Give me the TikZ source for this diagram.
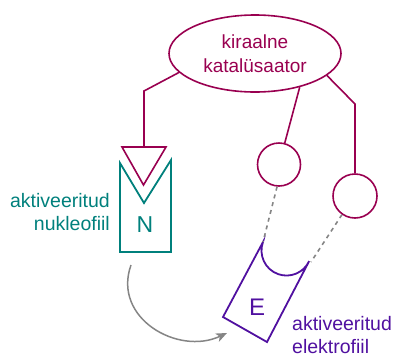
\documentclass[tikz,border=0pt]{standalone}
\usepackage{fontspec}
\setmainfont{Liberation Sans}
\usetikzlibrary{arrows.meta,shapes.geometric}
\definecolor{catred}{HTML}{990050}
\definecolor{nucteal}{HTML}{00807C}
\definecolor{elpurple}{HTML}{5010A0}
\definecolor{guidegray}{HTML}{858585}
\begin{document}
\begin{tikzpicture}[x=1pt,y=-1pt,
  catline/.style={draw=catred,line width=1.6pt},
  nucline/.style={draw=nucteal,line width=1.8pt,line join=miter},
  elline/.style={draw=elpurple,line width=1.8pt,line join=miter},
  contact/.style={draw=guidegray,line width=1.6pt,dash pattern=on 4pt off 4pt},
  lbl/.style={font=\fontsize{19.5}{23}\selectfont,inner sep=0pt}]
\useasboundingbox (0,0) rectangle (393,354);
% chiral catalyst
\node[catline,ellipse,minimum width=172pt,minimum height=77pt,inner sep=0pt,
  text=catred,font=\fontsize{19}{23.5}\selectfont,align=center] (cat) at (255,53.5)
  {kiraalne\\katalüsaator};
% arm with the triangular base
\coordinate (a1) at (144,91);
\coordinate (a2) at (144,147);
\draw[catline] (cat.194) -- (a1) -- (a2);
\draw[catline,line join=miter] (122,147) -- (166,147) -- (143.5,185) -- cycle;
% binding sites
\node[catline,circle,minimum size=43pt,inner sep=0pt] (s1) at (279,164.5) {};
\node[catline,circle,minimum size=44pt,inner sep=0pt] (s2) at (355,196) {};
\draw[catline] (cat.323) -- (s1);
\coordinate (b1) at (355,104);
\draw[catline] (cat.343) -- (b1) -- (s2.north);
% activated nucleophile
\draw[nucline] (171,160) -- (144,203) -- (120,163) -- (120,252) -- (171,252) -- cycle;
\node[text=nucteal,font=\fontsize{23}{26}\selectfont,inner sep=0pt] (N) at (145,225) {N};
\node[lbl,text=nucteal,align=right,anchor=north east] (nl) at (110,193) {aktiveeritud\\nukleofiil};
% activated electrophile
\coordinate (e1) at (263,242);
\coordinate (e2) at (311,262);
\draw[elline] (e1) arc[start angle=160,end angle=335,radius=25pt]
  -- (267,342) -- (223,317) -- cycle;
\node[text=elpurple,font=\fontsize{24}{28}\selectfont,inner sep=0pt] (E) at (257,307) {E};
\node[lbl,text=elpurple,align=left,anchor=north west] (el) at (292,316) {aktiveeritud\\elektrofiil};
% contacts
\draw[contact] (s1.-95) -- (e1);
\draw[contact] (s2.-125) -- (e2);
% approach of the nucleophile
\coordinate (t0) at (131,265);
\coordinate (t1) at (227,333);
\draw[draw=guidegray,line width=1.5pt,-{Stealth[length=11pt,width=9pt,inset=3pt]}]
  (t0) .. controls (112,318) and (178,356) .. (t1);
\end{tikzpicture}
\end{document}
